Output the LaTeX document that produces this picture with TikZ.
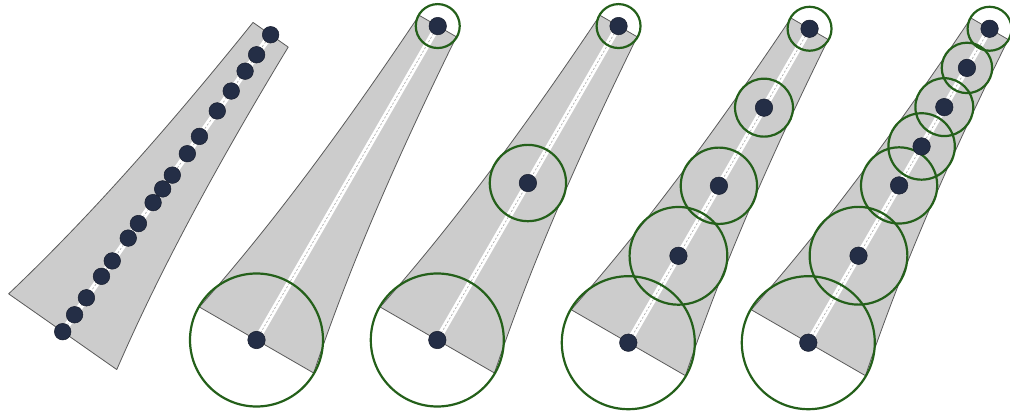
\documentclass[tikz,border=0pt]{standalone}
\usetikzlibrary{backgrounds}
\definecolor{shapegray}{RGB}{204,204,204}
\definecolor{edgegray}{RGB}{90,90,90}
\definecolor{navy}{RGB}{36,46,70}
\definecolor{navyedge}{RGB}{22,28,44}
\definecolor{ringgreen}{RGB}{36,96,26}
\definecolor{dashgray}{RGB}{165,165,165}
\tikzset{
  taper/.style={fill=shapegray, draw=edgegray, line width=0.8pt, line join=round},
  spine/.style={white, line width=6pt},
  spinedash/.style={dashgray, line width=0.6pt, dash pattern=on 2pt off 2pt},
  ring/.style={ringgreen, line width=2.2pt},
  dot/.style={circle, fill=navy, draw=navyedge, line width=0.5pt, minimum size=17.5pt, inner sep=0pt},
  smalldot/.style={dot, minimum size=16.6pt}
}
% tapered outline: #1 Bx, #2 By, #3 angle
\newcommand\drawtaper[3]{%
  \draw[taper] plot[domain=0:362.5,samples=60,variable=\q]
      ({#1+\q*cos(#3)-hw(\q)*sin(#3)},{#2-\q*sin(#3)-hw(\q)*cos(#3)})
    -- plot[domain=362.5:0,samples=60,variable=\q]
      ({#1+\q*cos(#3)+hw(\q)*sin(#3)},{#2-\q*sin(#3)+hw(\q)*cos(#3)})
    -- cycle;}
% panel with rings: #1 name, #2 Bx, #3 By, #4 s-list, #5 number of nodes
\newcommand\ringpanel[5]{%
  \foreach \s [count=\i] in {#4}
    \node[dot] (#1\i) at ({#2+\s*cos(60)},{#3-\s*sin(60)}) {};
  \begin{scope}[on background layer]
    \drawtaper{#2}{#3}{60}
    \draw[spine] (#11.center) -- (#1#5.center);
    \draw[spinedash] (#11.center) -- (#1#5.center);
    \foreach \s [count=\i] in {#4} {
      \pgfmathsetmacro\rr{hw(\s)+0.5}
      \draw[ring] (#1\i.center) circle[radius=\rr];
    }
  \end{scope}}
\begin{document}
\begin{tikzpicture}[x=1pt,y=-1pt, declare function={hw(\q)=66*exp(-0.0031*\q);}]
\useasboundingbox (0,0) rectangle (1010,411);
\clip (0,0) rectangle (1010,411);
% panel 1: many samples
\foreach \s [count=\i] in {0,20.7,41.4,67.6,86.4,114.3,132,157.6,174.3,191.1,217.3,238.4,269.5,293.8,318,338.1,362.5}
  \node[smalldot] (a\i) at ({62.7+\s*cos(55)},{331.7-\s*sin(55)}) {};
\begin{scope}[on background layer]
  \drawtaper{62.7}{331.7}{55}
  \draw[spine] (a1.center) -- (a17.center);
  \draw[spinedash] (a1.center) -- (a17.center);
\end{scope}
% panels 2-5
\ringpanel{b}{256.5}{340}{0,362.5}{2}
\ringpanel{c}{437.3}{340}{0,181.25,362.5}{3}
\ringpanel{d}{628.3}{342.7}{0,100.3,181.2,271.4,362.5}{5}
\ringpanel{e}{808.3}{342.7}{0,100.4,181.6,226.6,272,317.3,362.5}{7}
\end{tikzpicture}
\end{document}
